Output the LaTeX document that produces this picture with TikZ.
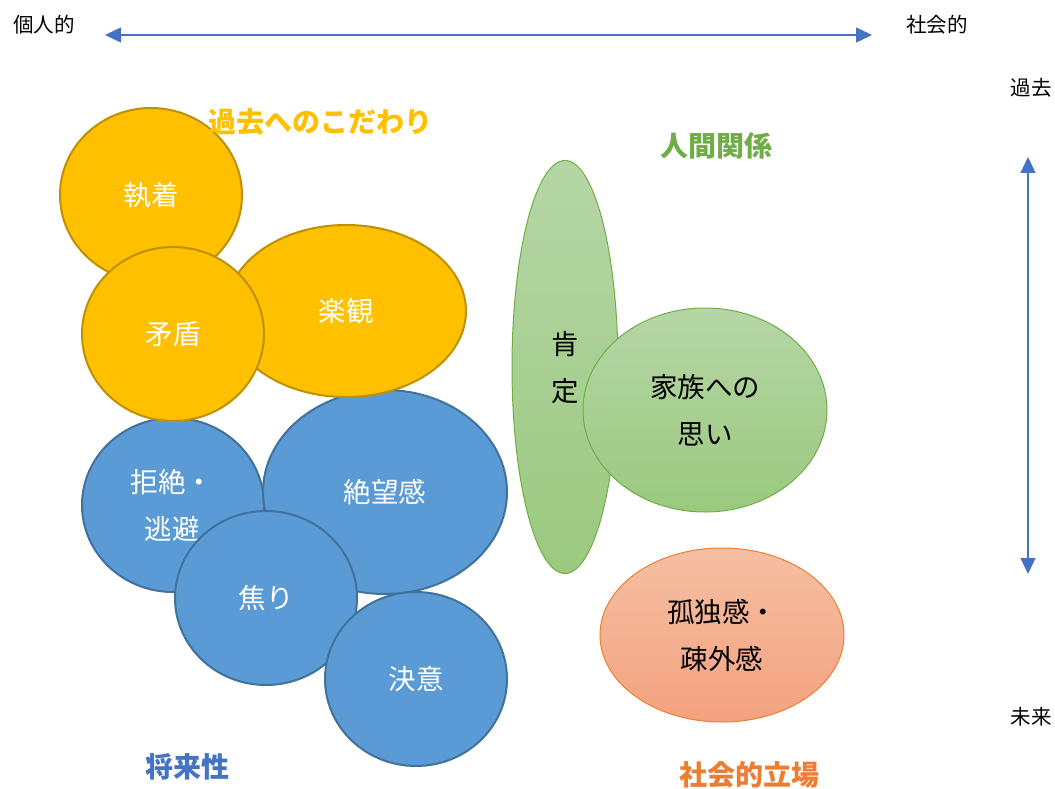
\documentclass[tikz,border=0pt]{standalone}
\usepackage{fontspec}
\setmainfont{Noto Sans CJK JP}
\usetikzlibrary{shapes.geometric,arrows.meta}
\definecolor{ylw}{HTML}{FFC000}
\definecolor{ylwd}{HTML}{BF9000}
\definecolor{blu}{HTML}{5B9BD5}
\definecolor{blud}{HTML}{41719C}
\definecolor{grnt}{HTML}{B5D6A6}
\definecolor{grnb}{HTML}{9BC97F}
\definecolor{grnd}{HTML}{70AD47}
\definecolor{orgt}{HTML}{F5BFA3}
\definecolor{orgb}{HTML}{F4A27F}
\definecolor{orgd}{HTML}{ED7D31}
\definecolor{axis}{HTML}{4472C4}
\tikzset{
  bubble/.style={ellipse,inner sep=0pt,align=center,font=\fontsize{27.5}{47}\selectfont},
  ybub/.style={bubble,fill=ylw,draw=ylwd,line width=2pt,text=white},
  bbub/.style={bubble,fill=blu,draw=blud,line width=2pt,text=white},
  gbub/.style={bubble,top color=grnt,bottom color=grnb,draw=grnd,line width=1pt,text=black},
  obub/.style={bubble,top color=orgt,bottom color=orgb,draw=orgd,line width=1pt,text=black},
  ttl/.style={font=\fontsize{28}{30}\selectfont\bfseries},
  cornerlbl/.style={font=\fontsize{20.5}{24}\selectfont,text=black},
  axisarrow/.style={draw=axis,line width=1.3pt,{Triangle[length=16pt,width=15pt]}-{Triangle[length=16pt,width=15pt]}}
}
\begin{document}
\begin{tikzpicture}[x=1pt,y=-1pt]
\useasboundingbox (0,0) rectangle (1055,789);
% blue group
\node[bbub,minimum width=182pt,minimum height=174pt] (kyo) at (173,505) {};
\node[bbub,minimum width=244pt,minimum height=204pt] (zetsu) at (385,492) {絶望感};
\node[font=\fontsize{27.5}{47}\selectfont,text=white,align=center] (kyot) at (172,505) {拒絶・\\逃避};
\node[bbub,minimum width=182pt,minimum height=174pt] (ase) at (266,598) {焦り};
\node[bbub,minimum width=182pt,minimum height=174pt] (ketsu) at (416,679) {決意};
% yellow group
\node[ybub,minimum width=182pt,minimum height=174pt] (shu) at (151,195) {執着};
\node[ybub,minimum width=240pt,minimum height=172pt] (raku) at (346,311) {楽観};
\node[ybub,minimum width=182pt,minimum height=174pt] (mu) at (173,334) {矛盾};
% green group
\node[gbub,minimum width=106pt,minimum height=413pt] (kou) at (565,367) {};
\node[font=\fontsize{27.5}{47}\selectfont,align=center] (kout) at (565,368) {肯\\定};
\node[gbub,minimum width=244pt,minimum height=204pt] (kazo) at (705,410) {家族への\\思い};
% orange
\node[obub,minimum width=244pt,minimum height=174pt] (ko) at (722,635) {孤独感・\\疎外感};
% titles
\node[ttl,text=ylw] (t1) at (320,122) {過去へのこだわり};
\node[ttl,text=grnd] (t2) at (716,146) {人間関係};
\node[ttl,text=axis] (t3) at (187,767) {将来性};
\node[ttl,text=orgd] (t4) at (749,775) {社会的立場};
% corner labels
\node[cornerlbl] (ind) at (44,25) {個人的};
\node[cornerlbl] (soc) at (937,25) {社会的};
\node[cornerlbl] (past) at (1031,88) {過去};
\node[cornerlbl] (fut) at (1031,717) {未来};
% axes
\coordinate (hl) at (105,35);
\coordinate (hr) at (872,35);
\coordinate (vt) at (1028,157);
\coordinate (vb) at (1028,574);
\draw[axisarrow] (hl) -- (hr);
\draw[axisarrow] (vt) -- (vb);
\end{tikzpicture}
\end{document}
